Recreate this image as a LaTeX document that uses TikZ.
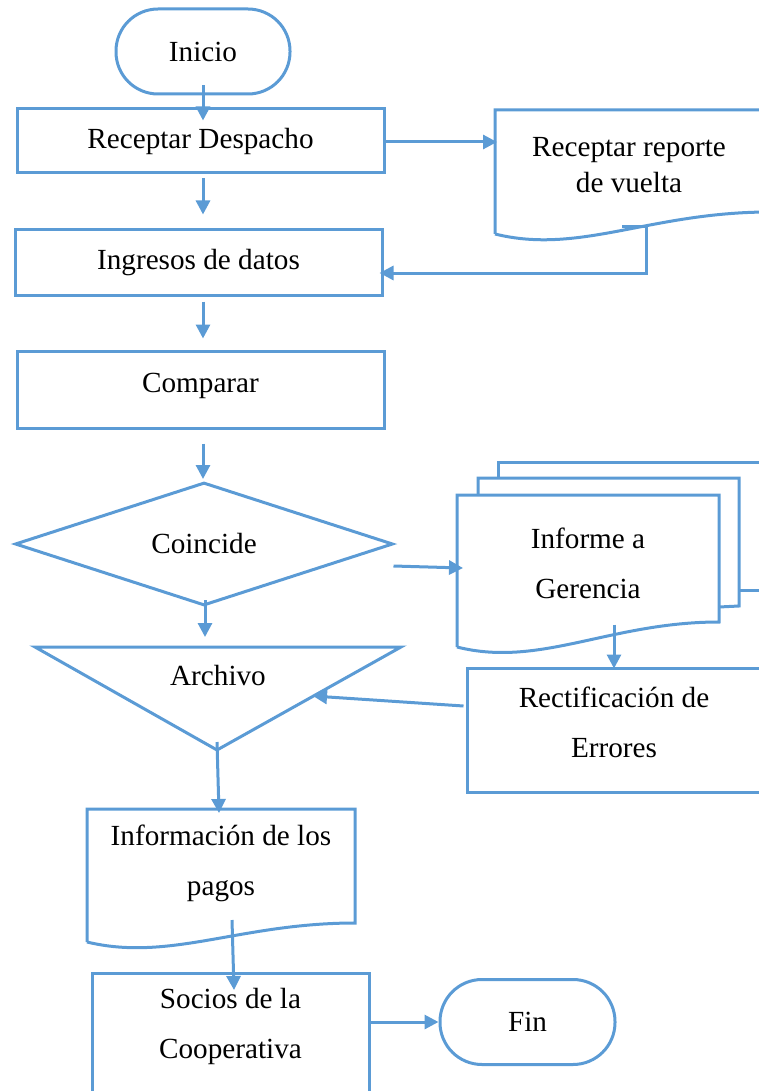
\documentclass[tikz,border=0pt]{standalone}
\usepackage{fontspec}
\setmainfont{Liberation Serif}
\usetikzlibrary{arrows.meta,shapes.geometric,calc}
\definecolor{flowblue}{HTML}{5B9BD5}

\begin{document}
\begin{tikzpicture}[x = 0.5pt, y = -0.5pt,
    line/.style = {draw = flowblue, line width = 1.5pt},
    flow/.style = {flowblue, line width = 1.5pt,
      -{Triangle[length = 7pt, width = 7pt]}},
    txt/.style = {font = \fontsize{14.6}{25}\selectfont,
      align = center, inner sep = 0pt},
    box/.style = {line, txt, rectangle},
    term/.style = {line, txt, rectangle, rounded corners = 21pt}]
    \useasboundingbox (0,0) rectangle (759,1091);
    \clip (0,0) rectangle (759,1091);
    % main column
    \node [term, minimum width = 87pt, minimum height = 42.5pt]
    (inicio) at (203,51.5) {Inicio};
    \node [box, minimum width = 183.5pt, minimum height = 32pt]
    (recep) at (200.5,141) {Receptar Despacho};
    \node [box, minimum width = 183.5pt, minimum height = 32.5pt]
    (ingresos) at (198.5,262.5) {Ingresos de datos};
    \node [box, minimum width = 183.5pt, minimum height = 38.5pt,
    text depth = 7pt] (comparar) at (200.5,389.5) {Comparar};
    \node [line, txt, diamond, aspect = 3,
    minimum width = 189pt, minimum height = 61.5pt]
    (coincide) at (204,544) {Coincide};
    \draw [line] (35,647) coordinate (arcL) -- (401,647)
    -- (217,750) coordinate (arcB) -- cycle;
    \node [txt] (archivo) at (218,676) {Archivo};
    \coordinate (arcin) at (313,696);
    % documento de pagos
    \draw [line] (87,942) -- (87,809) -- (355,809) -- (355,923)
    .. controls (240,923) and (170,962) .. (87,942);
    \node [txt] (info) at (221,863.5) {Informaci\'on de los\\pagos};
    \coordinate (infotop) at (219,813);
    \coordinate (infobot) at (232,920);
    \node [line, minimum width = 138.5pt, minimum height = 68pt,
    anchor = north] (sociosbox) at (230.5,972) {};
    \node [txt] (socios) at (230.5,1026) {Socios de la\\Cooperativa};
    \node [term, minimum width = 87.5pt, minimum height = 42.5pt]
    (fin) at (527.5,1022) {Fin};
    % reporte de vuelta
    \draw [line] (495,234) -- (495,110) -- (770,110) -- (770,212)
    .. controls (650,212) and (580,255) .. (495,234);
    \node [txt, font = \fontsize{14.6}{18}\selectfont]
    (reporte) at (629,165) {Receptar reporte\\de vuelta};
    \coordinate (repin) at (497,142);
    \coordinate (repout) at (622,227);
    % informe a gerencia (varias hojas)
    \draw [line] (498,478) -- (498,462) -- (770,462);
    \draw [line] (739,590) -- (770,590);
    \draw [line] (478,495) -- (478,478) -- (739,478) -- (739,606)
    -- (719,607);
    \draw [line] (457,647) -- (457,495) -- (719,495) -- (719,622)
    .. controls (610,622) and (540,668) .. (457,647);
    \node [txt] (informe) at (588,563) {Informe a\\Gerencia};
    \coordinate (infin) at (463,568);
    \node [box, minimum width = 147pt, minimum height = 62pt,
    text depth = 8pt] (rectif) at (614,730) {Rectificaci\'on de\\Errores};
    % connectors
    \coordinate (col) at (203,0);
    \draw [flow] ($(inicio.south)+(0,-10)$)
    -- ($(inicio.south |- recep.north)+(0,13)$);
    \draw [flow] ($(col |- recep.south)+(0,4)$)
    -- ($(col |- ingresos.north)+(0,-14)$);
    \draw [flow] ($(col |- ingresos.south)+(0,5)$)
    -- ($(col |- comparar.north)+(0,-11)$);
    \draw [flow] ($(col |- comparar.south)+(0,14)$)
    -- ($(col |- coincide.north)+(0,-2)$);
    \draw [flow] ($(coincide.south)+(1,-7)$)
    -- ($(coincide.south |- arcL)+(1,-10)$);
    \draw [flow] (recep.east |- repin) -- (repin);
    \draw [flow] (repout) -- ++(24,0) |- ($(ingresos.east)+(-4,10.5)$);
    \draw [flow] ($(coincide.east)+(-1,22)$) -- (infin);
    \draw [flow] ($(rectif.north)+(0,-42)$) -- ($(rectif.north)+(0,2)$);
    \draw [flow] ($(rectif.west)+(-2,-24)$) -- (arcin);
    \draw [flow] ($(arcB)+(0,-8)$) -- (infotop);
    \draw [flow] (infobot) -- ($(sociosbox.north)+(3.5,18)$);
    \draw [flow] ($(sociosbox.east |- fin.west)+(-2,0)$) -- (fin.west);
  \end{tikzpicture}
\end{document}
